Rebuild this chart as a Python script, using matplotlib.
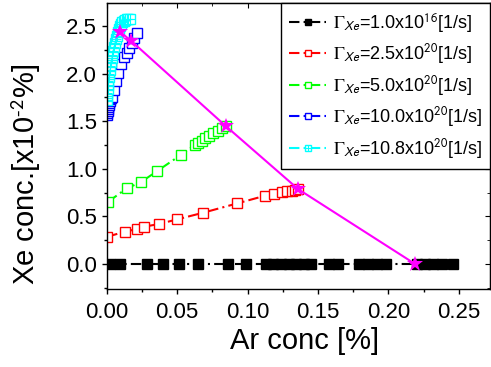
import matplotlib

matplotlib.use("Agg")
import matplotlib.pyplot as plt
from matplotlib.legend_handler import HandlerTuple
from matplotlib.ticker import FormatStrFormatter, MultipleLocator

plt.rcParams["font.family"] = ["Liberation Sans", "DejaVu Sans"]
plt.rcParams["mathtext.fontset"] = "stix"

# Gamma_Xe = 1.0e16 [1/s]
black_x = [0.0024, 0.0095, 0.0284, 0.0402, 0.0514, 0.0650, 0.0860, 0.0987,
           0.1129, 0.1183, 0.1238, 0.1292, 0.1347, 0.1401, 0.1451,
           0.1581, 0.1641, 0.1792, 0.1854, 0.1918, 0.1982,
           0.2200, 0.2261, 0.2320, 0.2379, 0.2462]
black_y = [0.0] * len(black_x)

# Gamma_Xe = 2.5e20 [1/s]
red_x = [0.0004, 0.0130, 0.0213, 0.0267, 0.0371, 0.0501, 0.0686, 0.0928,
         0.1124, 0.1188, 0.1247, 0.1283, 0.1314, 0.1337, 0.1361]
red_y = [0.287, 0.339, 0.367, 0.392, 0.420, 0.469, 0.539, 0.637,
         0.717, 0.735, 0.753, 0.764, 0.770, 0.777, 0.785]

# Gamma_Xe = 5.0e20 [1/s]
green_x = [0.0011, 0.0142, 0.0241, 0.0359, 0.0526, 0.0627, 0.0650, 0.0675,
           0.0698, 0.0727, 0.0757, 0.0788, 0.0817, 0.0845]
green_y = [0.654, 0.795, 0.858, 0.977, 1.145, 1.250, 1.274, 1.295,
           1.320, 1.345, 1.373, 1.397, 1.425, 1.450]

# Gamma_Xe = 10.0e20 [1/s]
blue_x = [0.0002, 0.0004, 0.0006, 0.0008, 0.0010, 0.0013, 0.0016, 0.0020,
          0.0025, 0.0030, 0.0040, 0.0050, 0.0064, 0.0078, 0.0100, 0.0125,
          0.0142, 0.0155, 0.0178, 0.0196, 0.0213]
blue_y = [1.57, 1.59, 1.61, 1.63, 1.65, 1.67, 1.69, 1.71,
          1.73, 1.74, 1.75, 1.83, 1.92, 2.01, 2.10, 2.17,
          2.22, 2.27, 2.32, 2.37, 2.43]

# Gamma_Xe = 10.8e20 [1/s]
cyan_x = [0.0002, 0.0003, 0.0005, 0.0007, 0.0009, 0.0012, 0.0015, 0.0019,
          0.0023, 0.0027, 0.0031, 0.0036, 0.0041, 0.0046, 0.0052, 0.0058,
          0.0064, 0.0071, 0.0078, 0.0086, 0.0094, 0.0103, 0.0112, 0.0122,
          0.0132, 0.0143, 0.0154, 0.0165]
cyan_y = [1.72, 1.76, 1.80, 1.84, 1.88, 1.92, 1.96, 2.00,
          2.04, 2.08, 2.12, 2.16, 2.20, 2.24, 2.28, 2.32,
          2.36, 2.40, 2.44, 2.47, 2.50, 2.52, 2.54, 2.555,
          2.565, 2.57, 2.575, 2.575]

# end points (stars) joined by the magenta line
star_x = [0.0094, 0.0173, 0.0845, 0.1361, 0.2190]
star_y = [2.440, 2.345, 1.450, 0.785, 0.000]

labels = [
    r"$\Gamma_{\mathsf{Xe}}$=1.0x10$^{\mathsf{16}}$[1/s]",
    r"$\Gamma_{\mathsf{Xe}}$=2.5x10$^{\mathsf{20}}$[1/s]",
    r"$\Gamma_{\mathsf{Xe}}$=5.0x10$^{\mathsf{20}}$[1/s]",
    r"$\Gamma_{\mathsf{Xe}}$=10.0x10$^{\mathsf{20}}$[1/s]",
    r"$\Gamma_{\mathsf{Xe}}$=10.8x10$^{\mathsf{20}}$[1/s]",
]

DASHDOT = (0, (5, 2, 1, 2))

fig = plt.figure(figsize=(4.91, 3.67), dpi=100)
ax = fig.add_axes([0.2173, 0.2117, 0.7807, 0.7801])

common = dict(linestyle=DASHDOT, linewidth=1.5, marker="s", markersize=6.5, markeredgewidth=1.0)
h_black, = ax.plot(black_x, black_y, color="black", markerfacecolor="black", **common)
h_red, = ax.plot(red_x, red_y, color="#ff0000", markerfacecolor="white", **common)
h_green, = ax.plot(green_x, green_y, color="#00ff00", markerfacecolor="white", **common)
h_blue, = ax.plot(blue_x, blue_y, color="#0000ff", markerfacecolor="white", **common)
h_cyan, = ax.plot(cyan_x, cyan_y, color="#00ffff", markerfacecolor="white", **common)
h_cyan_plus, = ax.plot(cyan_x, cyan_y, color="#00ffff", linestyle="none", marker="+",
                       markersize=6.5, markeredgewidth=0.8)

ax.plot(star_x, star_y, color="#ff00ff", linewidth=1.5, marker="*", markersize=12,
        markeredgewidth=0, zorder=5)

ax.set_xlim(0, 0.2722)
ax.set_ylim(-0.266, 2.742)
ax.xaxis.set_major_locator(MultipleLocator(0.05))
ax.xaxis.set_minor_locator(MultipleLocator(0.025))
ax.yaxis.set_major_locator(MultipleLocator(0.5))
ax.yaxis.set_minor_locator(MultipleLocator(0.25))
ax.xaxis.set_major_formatter(FormatStrFormatter("%.2f"))
ax.yaxis.set_major_formatter(FormatStrFormatter("%.1f"))

ax.tick_params(which="major", direction="out", length=3.4, width=1.0, labelsize=16)
ax.tick_params(which="minor", direction="out", length=2.0, width=1.0)
ax.tick_params(axis="x", pad=5.5)
ax.tick_params(axis="y", pad=3.5)
for spine in ax.spines.values():
    spine.set_linewidth(1.0)

# Origin style: top and right ticks point inward
top = ax.secondary_xaxis("top")
top.xaxis.set_major_locator(MultipleLocator(0.05))
top.xaxis.set_minor_locator(MultipleLocator(0.025))
top.tick_params(which="both", direction="in", labeltop=False)
top.tick_params(which="major", length=3.4)
top.tick_params(which="minor", length=2.0)
right = ax.secondary_yaxis("right")
right.yaxis.set_major_locator(MultipleLocator(0.5))
right.yaxis.set_minor_locator(MultipleLocator(0.25))
right.tick_params(which="both", direction="in", labelright=False)
right.tick_params(which="major", length=3.4)
right.tick_params(which="minor", length=2.0)

ax.set_xlabel("Ar conc [%]", fontsize=21)
ax.set_ylabel(r"Xe conc.[x10$^{\mathsf{\text{-}2}}$%]", fontsize=21)
ax.xaxis.set_label_coords(0.515, -0.132)
ax.yaxis.set_label_coords(-0.166, 0.40)

leg = ax.legend(
    [h_black, h_red, h_green, h_blue, (h_cyan, h_cyan_plus)],
    labels,
    handler_map={tuple: HandlerTuple(ndivide=1)},
    loc="upper right",
    bbox_to_anchor=(1.0, 1.0),
    borderaxespad=0,
    fontsize=13,
    markerscale=0.7,
    handlelength=2.0,
    handletextpad=0.4,
    labelspacing=0.42,
    borderpad=0.45,
    frameon=True,
    fancybox=False,
    edgecolor="black",
    framealpha=1.0,
)
leg.get_frame().set_linewidth(1.0)

fig.savefig("out.png", dpi=100)
